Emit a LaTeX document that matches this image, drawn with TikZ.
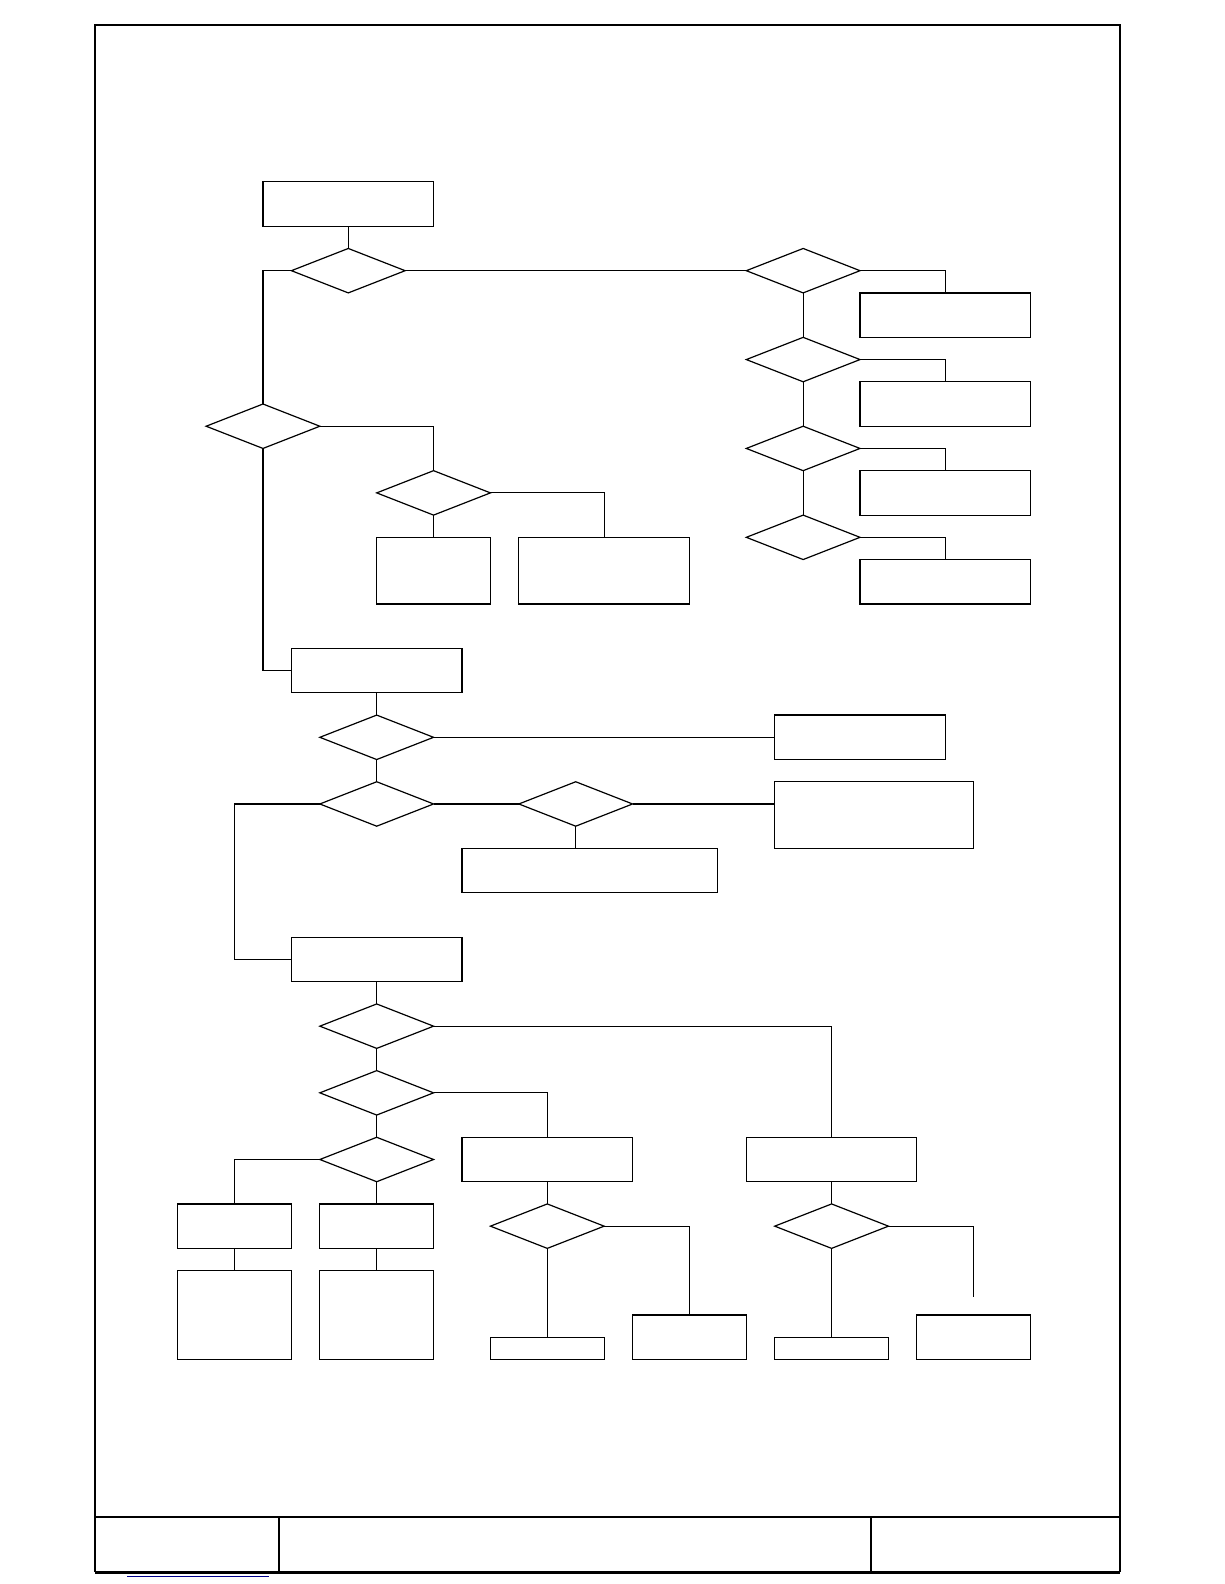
\documentclass[tikz,border=0pt]{standalone}
\usepackage{tikz}
\usetikzlibrary{shapes.geometric, calc}

\begin{document}
\begin{tikzpicture}[
    x=14.215pt, y=-11.11pt,
    line width=0.6pt,
    block/.style 2 args={
        rectangle, draw, line width=0.6pt,
        minimum width=#1*14.215pt, minimum height=#2*11.11pt,
        inner sep=0pt, outer sep=0pt
    },
    decision/.style={
        diamond, draw, line width=0.6pt,
        minimum width=56.86pt, minimum height=22.22pt,
        inner sep=0pt, outer sep=0pt
    },
    link/.style={line width=0.6pt},
    frame/.style={line width=1pt},
    heavy/.style={line width=1.4pt}
]

\useasboundingbox (-6.2504,-8.1818) rectangle (36.803,63.105);

%% ─── PAGE FRAME AND TITLE STRIP ─────────────────────────────────────────

\draw[frame] (-2.919,60.09) -- (-2.919,-7.057) -- (33.144,-7.057) -- (33.144,60.09);
\draw[frame] (-2.919,60.09) -- (33.144,60.09);
\draw[heavy] (-2.919,62.58) -- (33.144,62.58);
\draw[frame] (-2.919,60.09) -- (-2.919,62.58);
\draw[frame] (33.144,60.09) -- (33.144,62.58);
\draw[frame] (3.553,60.09) -- (3.553,62.58);
\draw[frame] (24.386,60.09) -- (24.386,62.58);
\draw[line width=0.5pt, blue!55!black] (-1.773,62.75) -- (3.201,62.75);

%% ─── TOP ─────────────────────────────────────────────────────────────────

\node[block={6}{2}]   (start) at (6,1)      {};
\node[decision]       (d1)    at (6,4)      {};
\node[decision]       (d2)    at (3,11)     {};
\node[decision]       (d3)    at (9,14)     {};
\node[block={4}{3}]   (b3a)   at (9,17.5)   {};
\node[block={6}{3}]   (b3b)   at (15,17.5)  {};

%% ─── RIGHT COLUMN ────────────────────────────────────────────────────────

\foreach \i/\m in {1/4, 2/8, 3/12, 4/16} {
    \node[decision]     (dr\i) at (22,\m)   {};
    \node[block={6}{2}] (rb\i) at (27,\m+2) {};
}

%% ─── MIDDLE ──────────────────────────────────────────────────────────────

\node[block={6}{2}]   (b4)    at (7,22)     {};
\node[decision]       (d5)    at (7,25)     {};
\node[block={6}{2}]   (r5)    at (24,25)    {};
\node[decision]       (d6)    at (7,28)     {};
\node[decision]       (d7)    at (14,28)    {};
\node[block={7}{3}]   (r7)    at (24.5,28.5) {};
\node[block={9}{2}]   (b7)    at (14.5,31)  {};

%% ─── BOTTOM ──────────────────────────────────────────────────────────────

\node[block={6}{2}]   (b8)    at (7,35)     {};
\node[decision]       (d9)    at (7,38)     {};
\node[decision]       (d10)   at (7,41)     {};
\node[decision]       (d11)   at (7,44)     {};
\node[block={6}{2}]   (b10)   at (13,44)    {};
\node[block={6}{2}]   (r9)    at (23,44)    {};

\node[block={4}{2}]   (b11a)  at (2,47)     {};
\node[block={4}{2}]   (b11b)  at (7,47)     {};
\node[block={4}{4}]   (c11a)  at (2,51)     {};
\node[block={4}{4}]   (c11b)  at (7,51)     {};

\node[decision]       (d12)   at (13,47)    {};
\node[block={4}{1}]   (e12a)  at (13,52.5)  {};
\node[block={4}{2}]   (e12b)  at (18,52)    {};

\node[decision]       (d13)   at (23,47)    {};
\node[block={4}{1}]   (e13a)  at (23,52.5)  {};
\node[block={4}{2}]   (e13b)  at (28,52)    {};

\coordinate (e13end) at ($(e13b.north)+(0,-0.8)$);

%% ─── TOP LINKS ───────────────────────────────────────────────────────────

\draw[link] (start) -- (d1);
\draw[link] (d1.west) -| (d2.north);
\draw[link] (d1.east) -- (dr1.west);
\draw[link] (d2.east) -| (d3.north);
\draw[link] (d3) -- (b3a);
\draw[link] (d3.east) -| (b3b.north);

% right column: each decision feeds the box on its right
\foreach \i in {1,2,3,4} {
    \draw[link] (dr\i.east) -| (rb\i.north);
}
\foreach \i/\j in {1/2, 2/3, 3/4} {
    \draw[link] (dr\i) -- (dr\j);
}

%% ─── MIDDLE LINKS ────────────────────────────────────────────────────────

\draw[link] (d2.south) |- (b4.west);
\draw[link] (b4) -- (d5);
\draw[link] (d5.east) -- (r5.west);
\draw[link] (d5) -- (d6);
\draw[link] (d6.east) -- (d7.west);
\draw[link] (d7.east) -- (d7.east -| r7.west);
\draw[link] (d7.south) -- (d7.south |- b7.north);

% back round the left side to the next block
\draw[link] (d6.west) -- ++(-3,0) |- (b8.west);

%% ─── BOTTOM LINKS ────────────────────────────────────────────────────────

\draw[link] (b8) -- (d9);
\draw[link] (d9.east) -| (r9.north);
\draw[link] (d9) -- (d10);
\draw[link] (d10.east) -| (b10.north);
\draw[link] (d10) -- (d11);
\draw[link] (d11.west) -| (b11a.north);
\draw[link] (d11) -- (b11b);
\draw[link] (b11a) -- (c11a);
\draw[link] (b11b) -- (c11b);

\draw[link] (b10) -- (d12);
\draw[link] (d12) -- (e12a);
\draw[link] (d12.east) -| (e12b.north);

\draw[link] (r9) -- (d13);
\draw[link] (d13) -- (e13a);
\draw[link] (d13.east) -| (e13end);

\end{tikzpicture}
\end{document}
